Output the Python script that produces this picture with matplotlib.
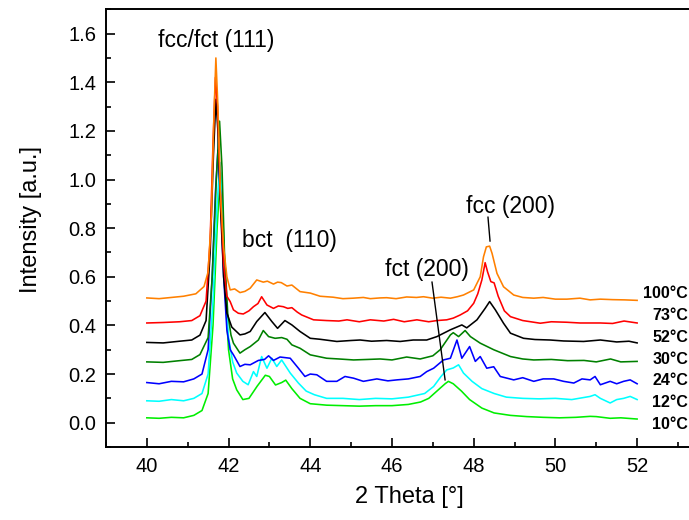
import matplotlib
matplotlib.use("Agg")
import matplotlib.pyplot as plt
from matplotlib.ticker import MultipleLocator

plt.rcParams['font.family'] = ['Liberation Sans', 'DejaVu Sans']

# temperatures / colours, bottom curve first
labels = ['10°C', '12°C', '24°C', '30°C', '52°C', '73°C', '100°C']
colors = ['#00ee00', '#00ffff', '#0000ff', '#008000', '#000000', '#ff0000', '#ff8000']

x_10 = [40.0, 40.3, 40.6, 40.9, 41.15, 41.35, 41.5, 41.62, 41.72, 41.8, 41.86, 41.93, 42.0, 42.1,
        42.2, 42.35, 42.5, 42.7, 42.9, 43.0, 43.15, 43.3, 43.4, 43.55, 43.75, 44.0, 44.4, 44.8,
        45.2, 45.6, 46.0, 46.4, 46.7, 46.9, 47.1, 47.3, 47.38, 47.5, 47.7, 47.9, 48.2, 48.5, 48.9,
        49.3, 49.7, 50.1, 50.5, 50.85, 51.0, 51.34, 51.6, 52.0]
y_10 = [0.02, 0.018, 0.022, 0.02, 0.03, 0.05, 0.12, 0.4, 0.8, 1.03, 0.85, 0.5, 0.3, 0.18,
        0.135, 0.095, 0.1, 0.15, 0.195, 0.19, 0.155, 0.165, 0.175, 0.14, 0.1, 0.078, 0.072, 0.07,
        0.068, 0.07, 0.07, 0.075, 0.085, 0.1, 0.13, 0.16, 0.17, 0.16, 0.13, 0.095, 0.06, 0.04, 0.03,
        0.025, 0.022, 0.02, 0.022, 0.026, 0.025, 0.018, 0.02, 0.015]

x_12 = [40.0, 40.3, 40.6, 40.9, 41.15, 41.35, 41.5, 41.62, 41.72, 41.79, 41.85, 41.92, 42.0, 42.1,
        42.2, 42.35, 42.48, 42.61, 42.69, 42.81, 42.94, 43.06, 43.18, 43.3, 43.51, 43.71, 43.9, 44.1,
        44.4, 44.8, 45.2, 45.6, 46.0, 46.4, 46.8, 47.02, 47.2, 47.34, 47.5, 47.63, 47.75, 47.96, 48.2,
        48.5, 48.8, 49.2, 49.6, 50.0, 50.4, 50.85, 50.97, 51.1, 51.34, 51.5, 51.67, 51.83, 52.0]
y_12 = [0.09, 0.088, 0.095, 0.09, 0.1, 0.12, 0.2, 0.5, 0.9, 1.07, 0.9, 0.55, 0.35, 0.25,
        0.204, 0.17, 0.156, 0.21, 0.19, 0.272, 0.224, 0.265, 0.231, 0.258, 0.204, 0.163, 0.13, 0.115,
        0.1, 0.1, 0.095, 0.1, 0.098, 0.105, 0.12, 0.149, 0.19, 0.217, 0.225, 0.238, 0.204, 0.17, 0.14,
        0.12, 0.105, 0.1, 0.098, 0.1, 0.095, 0.108, 0.115, 0.1, 0.081, 0.095, 0.1, 0.108, 0.095]

x_24 = [40.0, 40.3, 40.6, 40.9, 41.15, 41.35, 41.5, 41.6, 41.68, 41.74, 41.8, 41.88, 41.96, 42.04,
        42.12, 42.28, 42.4, 42.53, 42.73, 42.88, 42.98, 43.1, 43.26, 43.51, 43.71, 43.87, 44.0, 44.16,
        44.4, 44.65, 44.85, 45.06, 45.3, 45.63, 45.9, 46.12, 46.4, 46.69, 46.85, 47.02, 47.26, 47.43,
        47.59, 47.71, 47.9, 48.04, 48.16, 48.32, 48.49, 48.65, 48.98, 49.2, 49.47, 49.7, 49.96, 50.2,
        50.45, 50.65, 50.85, 50.97, 51.1, 51.34, 51.5, 51.67, 51.83, 52.0]
y_24 = [0.165, 0.16, 0.17, 0.168, 0.18, 0.2, 0.3, 0.6, 0.95, 1.12, 0.95, 0.6, 0.38, 0.3,
        0.279, 0.231, 0.24, 0.238, 0.256, 0.26, 0.275, 0.256, 0.27, 0.265, 0.224, 0.19, 0.2, 0.197,
        0.17, 0.17, 0.19, 0.183, 0.17, 0.18, 0.172, 0.176, 0.18, 0.19, 0.21, 0.224, 0.258, 0.265,
        0.34, 0.265, 0.313, 0.252, 0.272, 0.224, 0.23, 0.19, 0.176, 0.185, 0.17, 0.18, 0.18, 0.17,
        0.163, 0.18, 0.176, 0.19, 0.156, 0.17, 0.16, 0.17, 0.176, 0.16]

x_30 = [40.0, 40.4, 40.8, 41.1, 41.3, 41.5, 41.6, 41.7, 41.78, 41.84, 41.9, 41.98, 42.06, 42.12,
        42.28, 42.4, 42.53, 42.73, 42.85, 42.98, 43.14, 43.3, 43.43, 43.55, 43.75, 44.0, 44.4, 44.7,
        45.06, 45.4, 45.71, 46.0, 46.36, 46.69, 47.0, 47.18, 47.43, 47.5, 47.63, 47.79, 47.92, 48.16,
        48.49, 48.9, 49.2, 49.47, 49.9, 50.3, 50.7, 51.0, 51.35, 51.6, 52.0]
y_30 = [0.25, 0.248, 0.255, 0.26, 0.28, 0.35, 0.6, 1.0, 1.24, 1.05, 0.7, 0.45, 0.36, 0.327,
        0.286, 0.3, 0.313, 0.34, 0.379, 0.354, 0.347, 0.35, 0.343, 0.32, 0.306, 0.279, 0.265, 0.262,
        0.258, 0.26, 0.262, 0.258, 0.27, 0.262, 0.275, 0.3, 0.361, 0.37, 0.354, 0.379, 0.354, 0.327,
        0.3, 0.272, 0.262, 0.258, 0.26, 0.255, 0.256, 0.25, 0.262, 0.25, 0.252]

x_52 = [40.0, 40.4, 40.8, 41.1, 41.3, 41.45, 41.55, 41.63, 41.69, 41.74, 41.8, 41.88, 41.96, 42.08,
        42.28, 42.4, 42.53, 42.69, 42.89, 43.06, 43.2, 43.38, 43.55, 43.75, 44.0, 44.24, 44.65, 45.0,
        45.22, 45.5, 45.87, 46.2, 46.52, 46.85, 47.1, 47.43, 47.71, 47.83, 48.08, 48.28, 48.39, 48.53,
        48.73, 48.9, 49.22, 49.5, 49.87, 50.2, 50.69, 51.1, 51.5, 51.8, 52.0]
y_52 = [0.33, 0.328, 0.335, 0.34, 0.36, 0.42, 0.7, 1.1, 1.33, 1.2, 0.9, 0.6, 0.45, 0.393,
        0.361, 0.365, 0.375, 0.416, 0.453, 0.416, 0.388, 0.42, 0.402, 0.375, 0.347, 0.343, 0.334, 0.338,
        0.34, 0.335, 0.338, 0.334, 0.34, 0.34, 0.354, 0.382, 0.402, 0.39, 0.423, 0.47, 0.498, 0.464,
        0.409, 0.368, 0.347, 0.342, 0.34, 0.336, 0.334, 0.34, 0.332, 0.335, 0.328]

x_73 = [40.0, 40.4, 40.8, 41.1, 41.3, 41.45, 41.55, 41.62, 41.68, 41.73, 41.8, 41.88, 41.96, 42.04,
        42.12, 42.24, 42.36, 42.5, 42.61, 42.72, 42.81, 42.94, 43.1, 43.22, 43.34, 43.45, 43.55, 43.68,
        43.79, 44.08, 44.4, 44.7, 44.9, 45.2, 45.47, 45.8, 46.04, 46.3, 46.61, 46.9, 47.1, 47.34,
        47.5, 47.67, 47.85, 48.0, 48.1, 48.2, 48.28, 48.34, 48.42, 48.5, 48.6, 48.75, 48.9, 49.2,
        49.63, 49.9, 50.28, 50.6, 51.1, 51.4, 51.68, 52.0]
y_73 = [0.41, 0.412, 0.415, 0.42, 0.44, 0.5, 0.75, 1.15, 1.42, 1.3, 0.95, 0.65, 0.52, 0.498,
        0.464, 0.45, 0.447, 0.46, 0.477, 0.49, 0.518, 0.484, 0.47, 0.48, 0.477, 0.47, 0.473, 0.455,
        0.443, 0.423, 0.42, 0.418, 0.423, 0.415, 0.423, 0.418, 0.425, 0.415, 0.423, 0.415, 0.42, 0.423,
        0.43, 0.443, 0.46, 0.491, 0.53, 0.587, 0.658, 0.62, 0.58, 0.575, 0.52, 0.46, 0.436, 0.42,
        0.409, 0.415, 0.413, 0.41, 0.41, 0.408, 0.418, 0.41]

x_100 = [40.0, 40.3, 40.6, 40.9, 41.2, 41.4, 41.5, 41.58, 41.64, 41.69, 41.74, 41.8, 41.88, 41.96,
         42.04, 42.15, 42.28, 42.4, 42.53, 42.69, 42.85, 42.95, 43.1, 43.2, 43.29, 43.43, 43.55, 43.75,
         44.0, 44.24, 44.56, 44.8, 45.05, 45.3, 45.47, 45.7, 45.87, 46.1, 46.36, 46.6, 46.77, 47.0,
         47.2, 47.43, 47.6, 47.75, 48.0, 48.16, 48.24, 48.31, 48.39, 48.45, 48.57, 48.73, 48.98, 49.2,
         49.47, 49.7, 50.0, 50.28, 50.6, 50.85, 51.1, 51.4, 51.7, 52.0]
y_100 = [0.513, 0.51, 0.515, 0.52, 0.53, 0.56, 0.62, 0.85, 1.25, 1.5, 1.3, 0.95, 0.72, 0.6,
         0.546, 0.55, 0.535, 0.54, 0.553, 0.587, 0.578, 0.582, 0.57, 0.578, 0.576, 0.562, 0.566, 0.539,
         0.533, 0.52, 0.516, 0.51, 0.512, 0.515, 0.51, 0.513, 0.514, 0.51, 0.517, 0.515, 0.518, 0.512,
         0.516, 0.512, 0.518, 0.525, 0.546, 0.6, 0.682, 0.723, 0.726, 0.696, 0.614, 0.559, 0.525, 0.515,
         0.512, 0.515, 0.508, 0.508, 0.512, 0.505, 0.508, 0.506, 0.505, 0.503]

xs = [x_10, x_12, x_24, x_30, x_52, x_73, x_100]
ys = [y_10, y_12, y_24, y_30, y_52, y_73, y_100]

fig = plt.figure(figsize=(6.89, 5.2), dpi=100)
ax = fig.add_axes([0.1538, 0.1404, 0.848, 0.8417])

for x, y, c in zip(xs, ys, colors):
    ax.plot(x, y, color=c, lw=1.15)

# temperature labels at the right edge
for i, lab in enumerate(labels):
    ax.text(53.25, -0.008 + i * 0.0898, lab, ha='right', va='center',
            fontsize=11.5, fontweight='bold', clip_on=False)

# peak annotations
ax.text(41.69, 1.571, 'fcc/fct (111)', ha='center', va='center', fontsize=16.5)
ax.text(43.49, 0.75, 'bct  (110)', ha='center', va='center', fontsize=16.5)
ax.text(46.85, 0.628, 'fct (200)', ha='center', va='center', fontsize=16.5)
ax.text(48.9, 0.89, 'fcc (200)', ha='center', va='center', fontsize=16.5)
ax.plot([48.35, 48.40], [0.845, 0.747], color='k', lw=1)
ax.plot([46.98, 47.30], [0.578, 0.176], color='k', lw=1)

ax.set_xlim(39, 53.3)
ax.set_ylim(-0.1, 1.7)
ax.xaxis.set_major_locator(MultipleLocator(2))
ax.xaxis.set_minor_locator(MultipleLocator(1))
ax.yaxis.set_major_locator(MultipleLocator(0.2))
ax.yaxis.set_minor_locator(MultipleLocator(0.1))
ax.yaxis.set_major_formatter(matplotlib.ticker.FormatStrFormatter('%.1f'))
ax.tick_params(which='both', direction='in', width=1.2, labelsize=14.5, pad=7)
ax.tick_params(which='major', length=6.5)
ax.tick_params(which='minor', length=3.6)
for s in ax.spines.values():
    s.set_linewidth(1.4)

ax.set_xlabel('2 Theta [°]', fontsize=17)
ax.set_ylabel('Intensity [a.u.]', fontsize=17)
ax.yaxis.set_label_coords(-0.11, 0.52)
ax.xaxis.set_label_coords(0.52, -0.09)

fig.savefig('out.png', dpi=100)
